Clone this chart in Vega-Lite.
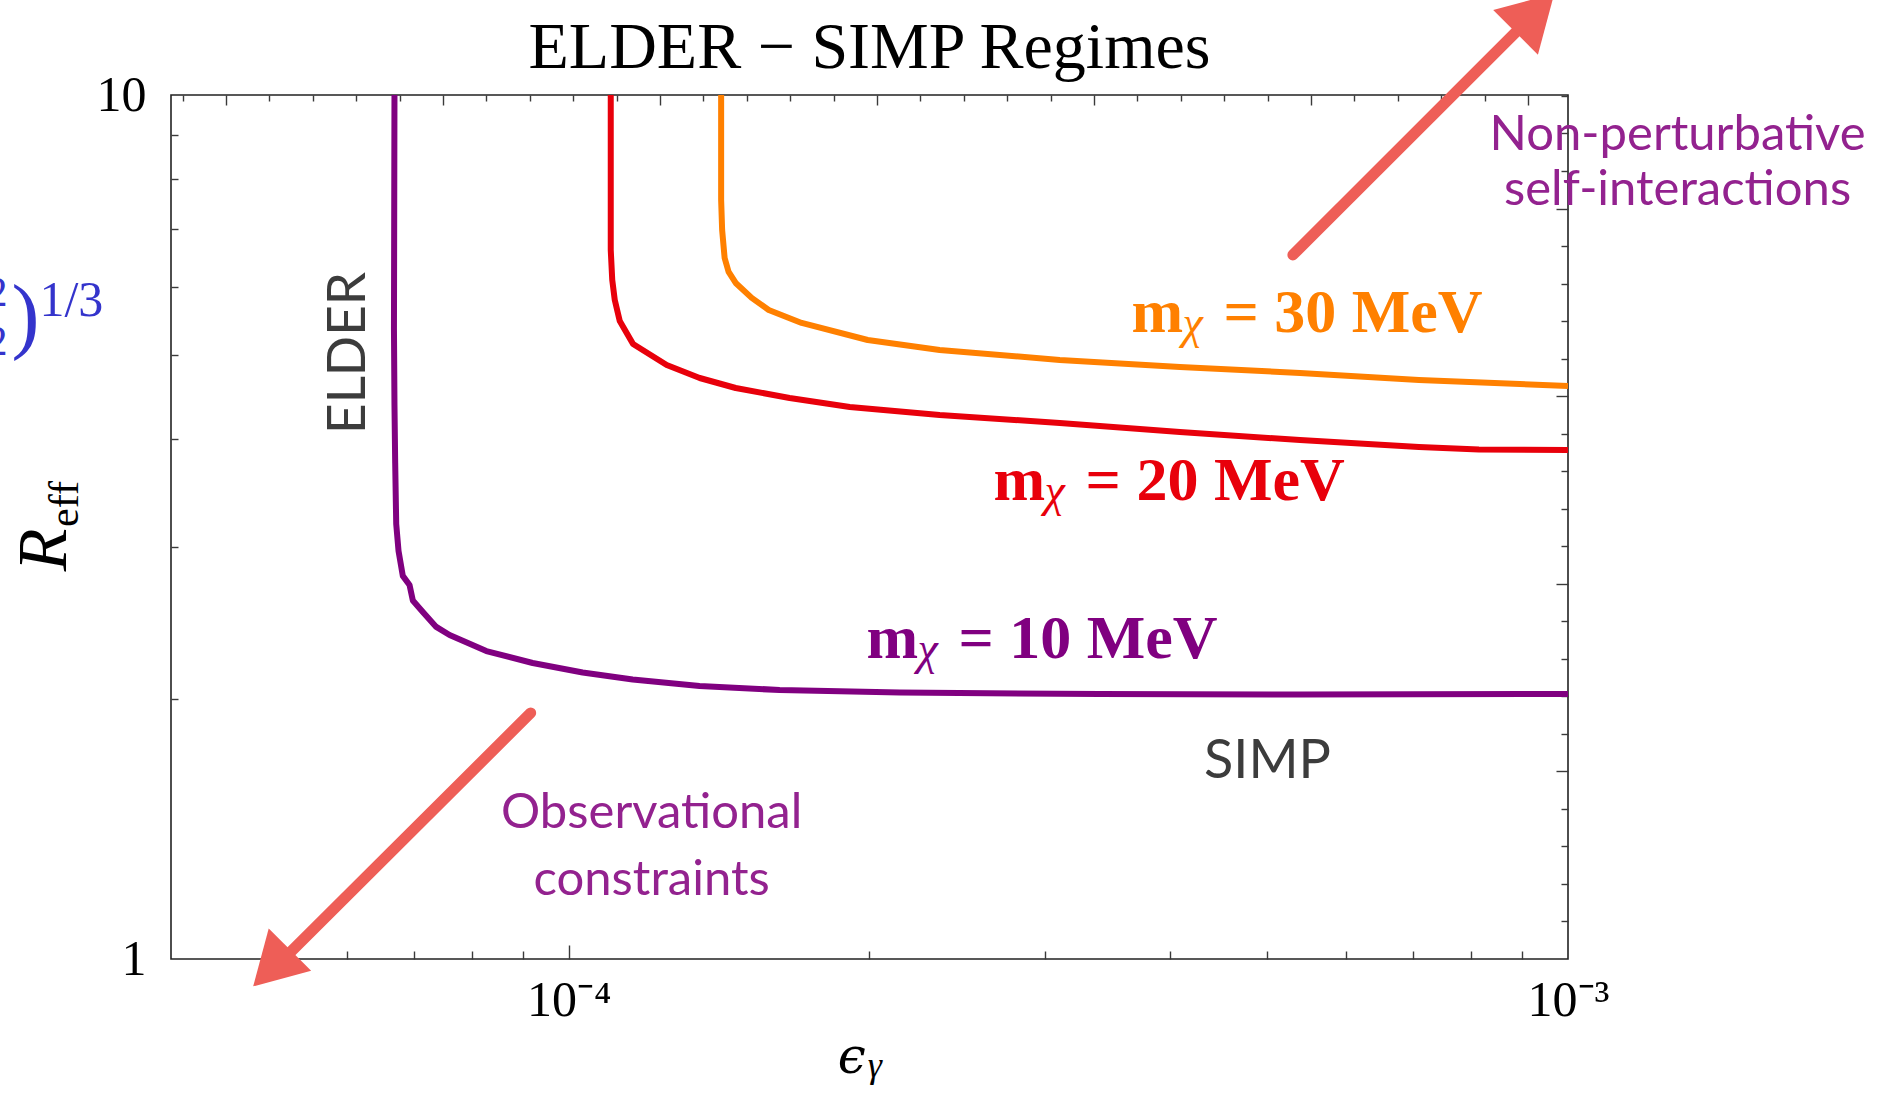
{
  "$schema": "https://vega.github.io/schema/vega-lite/v6.json",
  "width": 1397,
  "height": 864,
  "autosize": {"type": "none"},
  "padding": {"left": 171, "top": 95, "right": 312, "bottom": 138},
  "background": "white",
  "config": {
    "view": {"stroke": "#222222", "strokeWidth": 1.6},
    "axis": {"grid": false, "domain": false, "labelFont": "Liberation Serif", "labelFontSize": 50, "labelColor": "black", "tickColor": "#3a3a3a", "tickWidth": 1.4, "labelFlush": false, "labelOverlap": false}
  },
  "datasets": {
    "curves": [
      {"mass": "10 MeV", "i": 1, "eps": 6.694e-5, "R": 10},
      {"mass": "10 MeV", "i": 2, "eps": 6.686e-5, "R": 5.361},
      {"mass": "10 MeV", "i": 3, "eps": 6.694e-5, "R": 4.377},
      {"mass": "10 MeV", "i": 4, "eps": 6.705e-5, "R": 3.751},
      {"mass": "10 MeV", "i": 5, "eps": 6.721e-5, "R": 3.187},
      {"mass": "10 MeV", "i": 6, "eps": 6.757e-5, "R": 2.967},
      {"mass": "10 MeV", "i": 7, "eps": 6.824e-5, "R": 2.776},
      {"mass": "10 MeV", "i": 8, "eps": 6.930e-5, "R": 2.710},
      {"mass": "10 MeV", "i": 9, "eps": 6.983e-5, "R": 2.600},
      {"mass": "10 MeV", "i": 10, "eps": 7.146e-5, "R": 2.521},
      {"mass": "10 MeV", "i": 11, "eps": 7.370e-5, "R": 2.423},
      {"mass": "10 MeV", "i": 12, "eps": 7.600e-5, "R": 2.371},
      {"mass": "10 MeV", "i": 13, "eps": 8.272e-5, "R": 2.272},
      {"mass": "10 MeV", "i": 14, "eps": 9.204e-5, "R": 2.201},
      {"mass": "10 MeV", "i": 15, "eps": 1.0328e-4, "R": 2.146},
      {"mass": "10 MeV", "i": 16, "eps": 1.159e-4, "R": 2.106},
      {"mass": "10 MeV", "i": 17, "eps": 1.352e-4, "R": 2.070},
      {"mass": "10 MeV", "i": 18, "eps": 1.626e-4, "R": 2.048},
      {"mass": "10 MeV", "i": 19, "eps": 2.145e-4, "R": 2.034},
      {"mass": "10 MeV", "i": 20, "eps": 3.400e-4, "R": 2.026},
      {"mass": "10 MeV", "i": 21, "eps": 5.392e-4, "R": 2.024},
      {"mass": "10 MeV", "i": 22, "eps": 1e-3, "R": 2.026},
      {"mass": "20 MeV", "i": 1, "eps": 1.1018e-4, "R": 10},
      {"mass": "20 MeV", "i": 2, "eps": 1.1018e-4, "R": 6.616},
      {"mass": "20 MeV", "i": 3, "eps": 1.1056e-4, "R": 6.108},
      {"mass": "20 MeV", "i": 4, "eps": 1.1120e-4, "R": 5.792},
      {"mass": "20 MeV", "i": 5, "eps": 1.1249e-4, "R": 5.476},
      {"mass": "20 MeV", "i": 6, "eps": 1.1599e-4, "R": 5.150},
      {"mass": "20 MeV", "i": 7, "eps": 1.2534e-4, "R": 4.870},
      {"mass": "20 MeV", "i": 8, "eps": 1.3524e-4, "R": 4.704},
      {"mass": "20 MeV", "i": 9, "eps": 1.4694e-4, "R": 4.580},
      {"mass": "20 MeV", "i": 10, "eps": 1.6638e-4, "R": 4.460},
      {"mass": "20 MeV", "i": 11, "eps": 1.9111e-4, "R": 4.354},
      {"mass": "20 MeV", "i": 12, "eps": 2.3508e-4, "R": 4.262},
      {"mass": "20 MeV", "i": 13, "eps": 3.1006e-4, "R": 4.172},
      {"mass": "20 MeV", "i": 14, "eps": 4.0894e-4, "R": 4.073},
      {"mass": "20 MeV", "i": 15, "eps": 5.3929e-4, "R": 3.987},
      {"mass": "20 MeV", "i": 16, "eps": 7.0932e-4, "R": 3.913},
      {"mass": "20 MeV", "i": 17, "eps": 8.1444e-4, "R": 3.887},
      {"mass": "20 MeV", "i": 18, "eps": 1e-3, "R": 3.882},
      {"mass": "30 MeV", "i": 1, "eps": 1.4209e-4, "R": 10},
      {"mass": "30 MeV", "i": 2, "eps": 1.4209e-4, "R": 7.560},
      {"mass": "30 MeV", "i": 3, "eps": 1.4242e-4, "R": 6.978},
      {"mass": "30 MeV", "i": 4, "eps": 1.4324e-4, "R": 6.477},
      {"mass": "30 MeV", "i": 5, "eps": 1.4457e-4, "R": 6.240},
      {"mass": "30 MeV", "i": 6, "eps": 1.4694e-4, "R": 6.060},
      {"mass": "30 MeV", "i": 7, "eps": 1.5246e-4, "R": 5.823},
      {"mass": "30 MeV", "i": 8, "eps": 1.5856e-4, "R": 5.639},
      {"mass": "30 MeV", "i": 9, "eps": 1.7106e-4, "R": 5.447},
      {"mass": "30 MeV", "i": 10, "eps": 1.9918e-4, "R": 5.205},
      {"mass": "30 MeV", "i": 11, "eps": 2.3508e-4, "R": 5.069},
      {"mass": "30 MeV", "i": 12, "eps": 3.1006e-4, "R": 4.936},
      {"mass": "30 MeV", "i": 13, "eps": 4.0894e-4, "R": 4.845},
      {"mass": "30 MeV", "i": 14, "eps": 5.3929e-4, "R": 4.768},
      {"mass": "30 MeV", "i": 15, "eps": 7.0932e-4, "R": 4.679},
      {"mass": "30 MeV", "i": 16, "eps": 1e-3, "R": 4.605}
    ],
    "masslabels": [
      {"mass": "30 MeV", "eps": 3.657e-4, "R": 5.317, "rest": "= 30 MeV"},
      {"mass": "20 MeV", "eps": 2.662e-4, "R": 3.398, "rest": "= 20 MeV"},
      {"mass": "10 MeV", "eps": 1.986e-4, "R": 2.230, "rest": "= 10 MeV"}
    ],
    "notes": [
      {"kind": "title", "text": "ELDER − SIMP Regimes", "eps": 2.0e-4, "R": 10.746},
      {"kind": "elder", "text": "ELDER", "eps": 6.249e-5, "R": 5.028},
      {"kind": "simp", "text": "SIMP", "eps": 5.004e-4, "R": 1.620},
      {"kind": "purple", "text": "Observational", "eps": 1.2107e-4, "R": 1.418},
      {"kind": "purple", "text": "constraints", "eps": 1.2107e-4, "R": 1.1862},
      {"kind": "purple", "text": "Non-perturbative", "eps": 1.2872e-3, "R": 8.637},
      {"kind": "purple", "text": "self-interactions", "eps": 1.2872e-3, "R": 7.460}
    ],
    "arrows": [
      {"arrow": "up", "end": "a_tail", "eps": 5.305e-4, "R": 6.529},
      {"arrow": "up", "end": "b_head", "eps": 8.953e-4, "R": 11.955},
      {"arrow": "down", "end": "a_tail", "eps": 9.162e-5, "R": 1.9266},
      {"arrow": "down", "end": "b_head", "eps": 5.233e-5, "R": 1.0107}
    ],
    "heads": [
      {"arrow": "up", "eps": 9.266e-4, "R": 12.444},
      {"arrow": "down", "eps": 5.043e-5, "R": 0.9763}
    ],
    "axistitles": [
      {"part": "R", "text": "R", "eps": 3.144e-5, "R": 2.975},
      {"part": "eff", "text": "eff", "eps": 3.225e-5, "R": 3.362},
      {"part": "eps", "text": "ϵ", "eps": 1.983e-4, "R": 0.738},
      {"part": "gamma", "text": "γ", "eps": 1.992e-4, "R": 0.7302}
    ],
    "fragment": [
      {"kind": "num", "text": "2", "eps": 2.744e-5, "R": 5.70},
      {"kind": "den", "text": "2", "eps": 2.744e-5, "R": 5.002},
      {"kind": "paren", "text": ")", "eps": 2.860e-5, "R": 5.520},
      {"kind": "exp", "text": "1/3", "eps": 2.954e-5, "R": 5.55}
    ]
  },
  "resolve": {"scale": {"x": "shared", "y": "shared", "color": "shared"}, "axis": {"x": "independent", "y": "independent"}},
  "layer": [
    {
      "data": {"name": "curves"},
      "mark": {"type": "line", "strokeWidth": 6, "strokeJoin": "round"},
      "encoding": {
        "x": {"field": "eps", "type": "quantitative", "scale": {"type": "log", "domain": [4e-5, 1e-3], "nice": false}, "title": null,
              "axis": {"orient": "bottom", "values": [0.0001, 0.001], "ticks": false, "labelExpr": "datum.value < 0.0005 ? '10⁻⁴' : '10⁻³'", "labelPadding": 56, "labelBaseline": "alphabetic", "labelAlign": "center"}},
        "y": {"field": "R", "type": "quantitative", "scale": {"type": "log", "domain": [1, 10], "nice": false}, "title": null,
              "axis": {"orient": "left", "values": [1, 10], "ticks": false, "labelExpr": "datum.value < 5 ? '1' : '10'", "labelPadding": 25, "labelBaseline": "middle", "labelAlign": "right"}},
        "color": {"field": "mass", "type": "nominal", "scale": {"domain": ["10 MeV", "20 MeV", "30 MeV"], "range": ["#800080", "#E8000B", "#FF8000"]}, "legend": null},
        "order": {"field": "i", "type": "quantitative"}
      }
    },
    {
      "data": {"name": "masslabels"},
      "mark": {"type": "text", "font": "Liberation Serif", "fontWeight": "bold", "fontSize": 62, "align": "left", "baseline": "alphabetic"},
      "encoding": {
        "x": {"field": "eps", "type": "quantitative", "scale": {"type": "log", "domain": [4e-5, 1e-3], "nice": false}, "title": null,
              "axis": {"orient": "bottom", "values": [5e-5, 6e-5, 7e-5, 8e-5, 9e-5, 2e-4, 3e-4, 4e-4, 5e-4, 6e-4, 7e-4, 8e-4, 9e-4], "labels": false, "tickSize": -8}},
        "y": {"field": "R", "type": "quantitative", "scale": {"type": "log", "domain": [1, 10], "nice": false}, "title": null,
              "axis": {"orient": "left", "values": [2, 3, 4, 5, 6, 7, 8, 9], "labels": false, "tickSize": -7}},
        "color": {"field": "mass", "type": "nominal", "legend": null},
        "text": {"value": "m"}
      }
    },
    {
      "data": {"name": "masslabels"},
      "mark": {"type": "text", "font": "Liberation Serif", "fontStyle": "italic", "fontSize": 46, "align": "left", "baseline": "alphabetic", "dx": 51, "dy": 6},
      "encoding": {
        "x": {"field": "eps", "type": "quantitative", "scale": {"type": "log", "domain": [4e-5, 1e-3], "nice": false}, "title": null,
              "axis": {"orient": "bottom", "values": [0.0001], "labels": false, "tickSize": -14}},
        "y": {"field": "R", "type": "quantitative", "scale": {"type": "log", "domain": [1, 10], "nice": false}, "title": null, "axis": null},
        "color": {"field": "mass", "type": "nominal", "legend": null},
        "text": {"value": "χ"}
      }
    },
    {
      "data": {"name": "masslabels"},
      "mark": {"type": "text", "font": "Liberation Serif", "fontWeight": "bold", "fontSize": 62, "align": "left", "baseline": "alphabetic", "dx": 92},
      "encoding": {
        "x": {"field": "eps", "type": "quantitative", "scale": {"type": "log", "domain": [4e-5, 1e-3], "nice": false}, "title": null,
              "axis": {"orient": "top", "labels": false, "tickSize": -6,
                       "values": [4.108e-5, 5.0175e-5, 5.5452e-5, 6.1284e-5, 6.7729e-5, 8.2724e-5, 9.1424e-5, 1.01039e-4, 1.11666e-4, 1.36389e-4, 1.50733e-4, 1.66586e-4, 1.84106e-4, 2.24867e-4, 2.48517e-4, 2.74654e-4, 3.03539e-4, 3.70744e-4, 4.09735e-4, 4.52827e-4, 5.00451e-4, 6.11253e-4, 6.75539e-4, 7.46586e-4, 8.25105e-4]}},
        "y": {"field": "R", "type": "quantitative", "scale": {"type": "log", "domain": [1, 10], "nice": false}, "title": null,
              "axis": {"orient": "right", "labels": false, "tickSize": -7,
                       "values": [1.105171, 1.221403, 1.349859, 1.491825, 1.822119, 2.013753, 2.225541, 2.459603, 3.004166, 3.320117, 3.669297, 4.0552, 4.953032, 5.473947, 6.049647, 6.685894, 8.16617, 9.025013, 9.974182]}},
        "color": {"field": "mass", "type": "nominal", "legend": null},
        "text": {"field": "rest"}
      }
    },
    {
      "data": {"name": "notes"},
      "transform": [{"filter": "datum.kind == 'elder'"}],
      "mark": {"type": "text", "font": "Lato", "fontSize": 53, "color": "#3c3c3c", "align": "center", "baseline": "alphabetic", "angle": 270},
      "encoding": {
        "x": {"field": "eps", "type": "quantitative", "scale": {"type": "log", "domain": [4e-5, 1e-3], "nice": false}, "title": null,
              "axis": {"orient": "top", "labels": false, "tickSize": -10, "values": [4.539993e-5, 7.48518e-5, 1.234098e-4, 2.034684e-4, 3.354626e-4, 5.530844e-4, 9.11882e-4]}},
        "y": {"field": "R", "type": "quantitative", "scale": {"type": "log", "domain": [1, 10], "nice": false}, "title": null,
              "axis": {"orient": "right", "labels": false, "tickSize": -12, "values": [1.648721, 2.718282, 4.481689, 7.389056]}},
        "text": {"field": "text"}
      }
    },
    {
      "data": {"name": "notes"},
      "transform": [{"filter": "datum.kind == 'title'"}],
      "mark": {"type": "text", "font": "Liberation Serif", "fontSize": 66, "color": "black", "align": "center", "baseline": "alphabetic"},
      "encoding": {
        "x": {"field": "eps", "type": "quantitative", "scale": {"type": "log", "domain": [4e-5, 1e-3], "nice": false}, "title": null, "axis": null},
        "y": {"field": "R", "type": "quantitative", "scale": {"type": "log", "domain": [1, 10], "nice": false}, "title": null, "axis": null},
        "text": {"field": "text"}
      }
    },
    {
      "data": {"name": "notes"},
      "transform": [{"filter": "datum.kind == 'simp'"}],
      "mark": {"type": "text", "font": "Lato", "fontSize": 54, "color": "#3c3c3c", "align": "center", "baseline": "alphabetic"},
      "encoding": {
        "x": {"field": "eps", "type": "quantitative", "scale": {"type": "log", "domain": [4e-5, 1e-3], "nice": false}, "title": null, "axis": null},
        "y": {"field": "R", "type": "quantitative", "scale": {"type": "log", "domain": [1, 10], "nice": false}, "title": null, "axis": null},
        "text": {"field": "text"}
      }
    },
    {
      "data": {"name": "notes"},
      "transform": [{"filter": "datum.kind == 'purple'"}],
      "mark": {"type": "text", "font": "Lato", "fontSize": 49, "color": "#93228F", "align": "center", "baseline": "alphabetic"},
      "encoding": {
        "x": {"field": "eps", "type": "quantitative", "scale": {"type": "log", "domain": [4e-5, 1e-3], "nice": false}, "title": null, "axis": null},
        "y": {"field": "R", "type": "quantitative", "scale": {"type": "log", "domain": [1, 10], "nice": false}, "title": null, "axis": null},
        "text": {"field": "text"}
      }
    },
    {
      "data": {"name": "arrows"},
      "mark": {"type": "line", "strokeWidth": 11, "strokeCap": "round", "color": "#EE5E57"},
      "encoding": {
        "x": {"field": "eps", "type": "quantitative", "scale": {"type": "log", "domain": [4e-5, 1e-3], "nice": false}, "title": null, "axis": null},
        "y": {"field": "R", "type": "quantitative", "scale": {"type": "log", "domain": [1, 10], "nice": false}, "title": null, "axis": null},
        "detail": {"field": "arrow", "type": "nominal"},
        "order": {"field": "end", "type": "ordinal"}
      }
    },
    {
      "data": {"name": "heads"},
      "transform": [{"filter": "datum.arrow == 'up'"}],
      "mark": {"type": "point", "shape": "triangle-up", "size": 4000, "filled": true, "opacity": 1, "color": "#EE5E57", "angle": 45},
      "encoding": {
        "x": {"field": "eps", "type": "quantitative", "scale": {"type": "log", "domain": [4e-5, 1e-3], "nice": false}, "title": null, "axis": null},
        "y": {"field": "R", "type": "quantitative", "scale": {"type": "log", "domain": [1, 10], "nice": false}, "title": null, "axis": null}
      }
    },
    {
      "data": {"name": "heads"},
      "transform": [{"filter": "datum.arrow == 'down'"}],
      "mark": {"type": "point", "shape": "triangle-up", "size": 3600, "filled": true, "opacity": 1, "color": "#EE5E57", "angle": 225},
      "encoding": {
        "x": {"field": "eps", "type": "quantitative", "scale": {"type": "log", "domain": [4e-5, 1e-3], "nice": false}, "title": null, "axis": null},
        "y": {"field": "R", "type": "quantitative", "scale": {"type": "log", "domain": [1, 10], "nice": false}, "title": null, "axis": null}
      }
    },
    {
      "data": {"name": "axistitles"},
      "transform": [{"filter": "datum.part == 'R'"}],
      "mark": {"type": "text", "font": "Liberation Serif", "fontStyle": "italic", "fontSize": 70, "color": "black", "align": "center", "baseline": "alphabetic", "angle": 270},
      "encoding": {
        "x": {"field": "eps", "type": "quantitative", "scale": {"type": "log", "domain": [4e-5, 1e-3], "nice": false}, "title": null, "axis": null},
        "y": {"field": "R", "type": "quantitative", "scale": {"type": "log", "domain": [1, 10], "nice": false}, "title": null, "axis": null},
        "text": {"field": "text"}
      }
    },
    {
      "data": {"name": "axistitles"},
      "transform": [{"filter": "datum.part == 'eff'"}],
      "mark": {"type": "text", "font": "Liberation Serif", "fontSize": 42, "color": "black", "align": "center", "baseline": "alphabetic", "angle": 270},
      "encoding": {
        "x": {"field": "eps", "type": "quantitative", "scale": {"type": "log", "domain": [4e-5, 1e-3], "nice": false}, "title": null, "axis": null},
        "y": {"field": "R", "type": "quantitative", "scale": {"type": "log", "domain": [1, 10], "nice": false}, "title": null, "axis": null},
        "text": {"field": "text"}
      }
    },
    {
      "data": {"name": "axistitles"},
      "transform": [{"filter": "datum.part == 'eps'"}],
      "mark": {"type": "text", "font": "DejaVu Serif", "fontStyle": "italic", "fontSize": 50, "color": "black", "align": "right", "baseline": "alphabetic"},
      "encoding": {
        "x": {"field": "eps", "type": "quantitative", "scale": {"type": "log", "domain": [4e-5, 1e-3], "nice": false}, "title": null, "axis": null},
        "y": {"field": "R", "type": "quantitative", "scale": {"type": "log", "domain": [1, 10], "nice": false}, "title": null, "axis": null},
        "text": {"field": "text"}
      }
    },
    {
      "data": {"name": "axistitles"},
      "transform": [{"filter": "datum.part == 'gamma'"}],
      "mark": {"type": "text", "font": "Liberation Serif", "fontStyle": "italic", "fontSize": 36, "color": "black", "align": "left", "baseline": "alphabetic"},
      "encoding": {
        "x": {"field": "eps", "type": "quantitative", "scale": {"type": "log", "domain": [4e-5, 1e-3], "nice": false}, "title": null, "axis": null},
        "y": {"field": "R", "type": "quantitative", "scale": {"type": "log", "domain": [1, 10], "nice": false}, "title": null, "axis": null},
        "text": {"field": "text"}
      }
    },
    {
      "data": {"name": "fragment"},
      "transform": [{"filter": "datum.kind == 'num' || datum.kind == 'den'"}],
      "mark": {"type": "text", "font": "Liberation Serif", "fontSize": 42, "color": "#3434CC", "align": "right", "baseline": "alphabetic"},
      "encoding": {
        "x": {"field": "eps", "type": "quantitative", "scale": {"type": "log", "domain": [4e-5, 1e-3], "nice": false}, "title": null, "axis": null},
        "y": {"field": "R", "type": "quantitative", "scale": {"type": "log", "domain": [1, 10], "nice": false}, "title": null, "axis": null},
        "text": {"field": "text"}
      }
    },
    {
      "data": {"name": "fragment"},
      "transform": [{"filter": "datum.kind == 'exp'"}],
      "mark": {"type": "text", "font": "Liberation Serif", "fontSize": 50, "color": "#3434CC", "align": "left", "baseline": "alphabetic"},
      "encoding": {
        "x": {"field": "eps", "type": "quantitative", "scale": {"type": "log", "domain": [4e-5, 1e-3], "nice": false}, "title": null, "axis": null},
        "y": {"field": "R", "type": "quantitative", "scale": {"type": "log", "domain": [1, 10], "nice": false}, "title": null, "axis": null},
        "text": {"field": "text"}
      }
    },
    {
      "data": {"name": "fragment"},
      "transform": [{"filter": "datum.kind == 'paren'"}],
      "mark": {"type": "text", "font": "Liberation Serif", "fontSize": 84, "color": "#3434CC", "align": "center", "baseline": "middle"},
      "encoding": {
        "x": {"field": "eps", "type": "quantitative", "scale": {"type": "log", "domain": [4e-5, 1e-3], "nice": false}, "title": null, "axis": null},
        "y": {"field": "R", "type": "quantitative", "scale": {"type": "log", "domain": [1, 10], "nice": false}, "title": null, "axis": null},
        "text": {"field": "text"}
      }
    }
  ]
}
